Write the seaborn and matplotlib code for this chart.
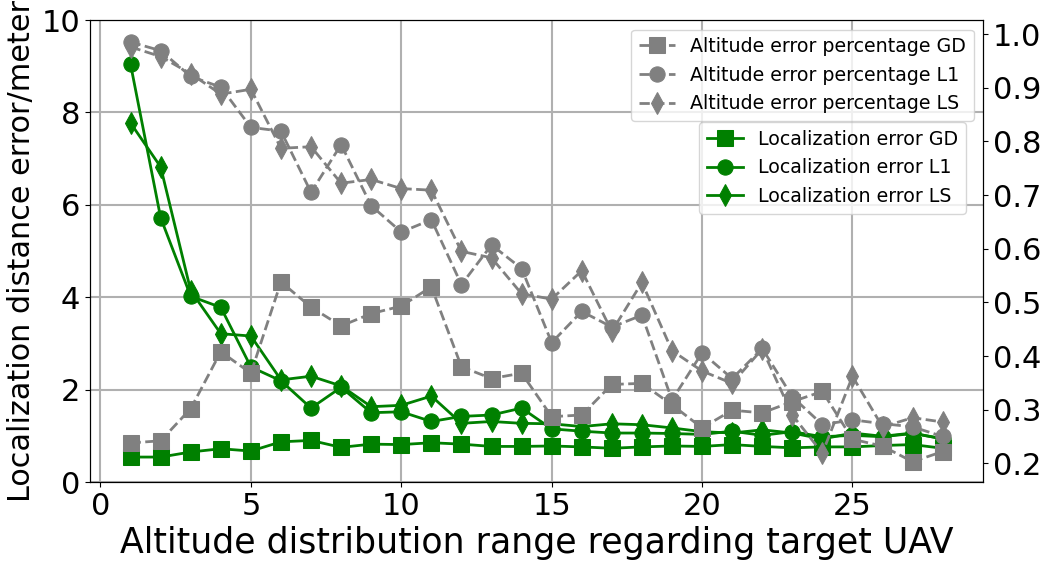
import matplotlib
matplotlib.use("Agg")
import matplotlib.pyplot as plt
import seaborn as sns
import numpy as np

x = list(range(1, 29))

# Localization error (left axis, meters)
loc_gd = [0.54, 0.54, 0.65, 0.72, 0.67, 0.87, 0.90, 0.75, 0.82, 0.81, 0.85, 0.82, 0.77, 0.77,
          0.78, 0.76, 0.73, 0.76, 0.78, 0.77, 0.81, 0.77, 0.74, 0.76, 0.76, 0.79, 0.81, 0.73]
loc_l1 = [9.04, 5.72, 4.02, 3.78, 2.49, 2.19, 1.60, 2.05, 1.50, 1.52, 1.31, 1.42, 1.45, 1.60,
          1.15, 1.10, 1.06, 1.06, 1.05, 1.03, 1.10, 1.01, 1.09, 0.98, 1.01, 0.98, 1.05, 0.94]
loc_ls = [7.77, 6.82, 4.14, 3.21, 3.16, 2.21, 2.29, 2.08, 1.63, 1.66, 1.86, 1.27, 1.31, 1.27,
          1.26, 1.20, 1.26, 1.24, 1.17, 1.09, 1.06, 1.13, 1.06, 0.93, 1.06, 0.99, 1.06, 0.93]

# Altitude error percentage (right axis)
alt_gd = [0.238, 0.242, 0.302, 0.408, 0.368, 0.538, 0.491, 0.456, 0.479, 0.493, 0.529, 0.380,
          0.358, 0.368, 0.287, 0.290, 0.347, 0.349, 0.309, 0.266, 0.299, 0.294, 0.315, 0.334,
          0.245, 0.232, 0.203, 0.222]
alt_l1 = [0.985, 0.969, 0.921, 0.901, 0.826, 0.819, 0.705, 0.794, 0.680, 0.631, 0.654, 0.533,
          0.607, 0.563, 0.425, 0.483, 0.454, 0.476, 0.318, 0.406, 0.358, 0.414, 0.324, 0.272,
          0.281, 0.274, 0.268, 0.250]
alt_ls = [0.976, 0.958, 0.926, 0.888, 0.897, 0.787, 0.790, 0.722, 0.729, 0.712, 0.709, 0.595,
          0.583, 0.516, 0.506, 0.559, 0.446, 0.537, 0.410, 0.372, 0.349, 0.413, 0.290, 0.219,
          0.362, 0.268, 0.285, 0.277]

fig = plt.figure(figsize=(10.51, 5.67), dpi=100)
ax = fig.add_axes([0.0856, 0.1499, 0.8500, 0.8148])
ax2 = ax.twinx()

green = "green"
gray = "gray"
ms = 11

green_series = [(loc_gd, "s", "Localization error GD"),
                (loc_l1, "o", "Localization error L1"),
                (loc_ls, "d", "Localization error LS")]
gray_series = [(alt_gd, "s", "Altitude error percentage GD"),
               (alt_l1, "o", "Altitude error percentage L1"),
               (alt_ls, "d", "Altitude error percentage LS")]

for vals, mk, lab in green_series:
    sns.lineplot(x=x, y=vals, ax=ax, color=green, marker=mk, markersize=ms,
                 markeredgecolor=green, linewidth=2, label=lab, legend=False)
for vals, mk, lab in gray_series:
    sns.lineplot(x=x, y=vals, ax=ax2, color=gray, marker=mk, markersize=ms,
                 markeredgecolor=gray, linewidth=2, linestyle="--", label=lab, legend=False)

ax.set_xlim(-0.35, 29.35)
ax.set_ylim(0, 10)
ax2.set_ylim(0.1652, 1.0261)
ax.set_xticks([0, 5, 10, 15, 20, 25])
ax.set_yticks([0, 2, 4, 6, 8, 10])
ax2.set_yticks([0.2, 0.3, 0.4, 0.5, 0.6, 0.7, 0.8, 0.9, 1.0])
ax.grid(True, color="#b0b0b0", linewidth=1.5)
ax.tick_params(labelsize=22)
ax2.tick_params(labelsize=22)
ax.set_xlabel("Altitude distribution range regarding target UAV", fontsize=25)
ax.set_ylabel("Localization distance error/meter", fontsize=21.8)

h1, l1 = ax2.get_legend_handles_labels()
h2, l2 = ax.get_legend_handles_labels()
leg1 = ax2.legend(h1, l1, loc="upper right", fontsize=13.7, handlelength=1.9)
ax2.add_artist(leg1)
ax2.legend(h2, l2, loc="upper right", bbox_to_anchor=(0.9803, 0.7786),
           borderaxespad=0, fontsize=13.7, handlelength=1.9)

fig.savefig("out.png", dpi=100)
